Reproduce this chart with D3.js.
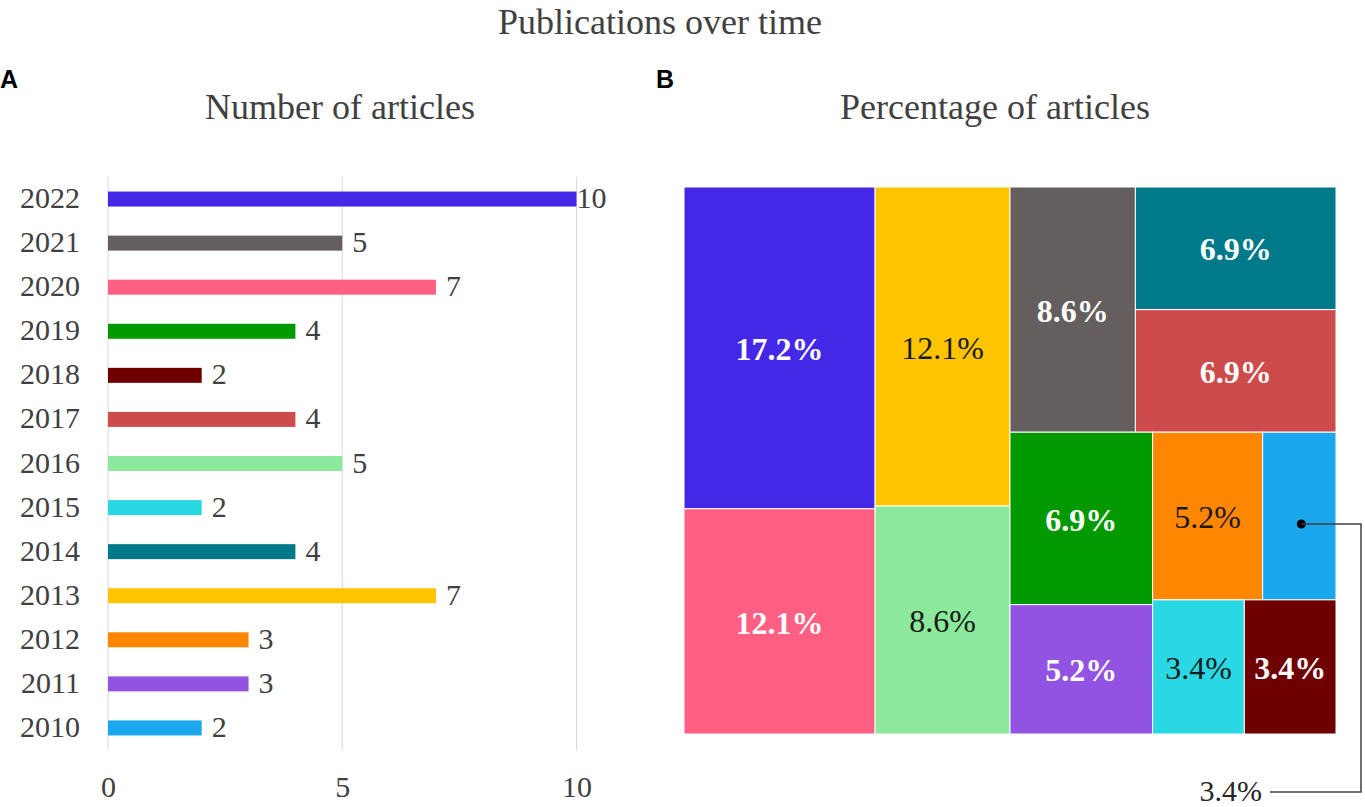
<html>

<head>
    <meta charset="utf-8">
    <title>Publications over time</title>
    <style>
        body { margin: 0; background: #fff; }
        svg text { font-family: "Liberation Serif", "Tinos", "DejaVu Serif", serif !important; }
        svg text.panel { font-family: "Liberation Sans", Arial, sans-serif !important; }
    </style>
</head>

<body>
    <script src="https://cdn.jsdelivr.net/npm/d3@7/dist/d3.min.js" charset="utf-8"></script>
    <script>
        // data
        var years = [2022, 2021, 2020, 2019, 2018, 2017, 2016, 2015, 2014, 2013, 2012, 2011, 2010];
        var counts = [10, 5, 7, 4, 2, 4, 5, 2, 4, 7, 3, 3, 2];
        var colors = ["#4328E7", "#645E5E", "#FF5F82", "#009A00", "#6F0000", "#CE4B4B", "#8AE99A",
            "#2AD8E3", "#007A8A", "#FFC400", "#FF8600", "#9353E2", "#1AA7EC"];
        var xTicks = [0, 5, 10];
        // how the treemap nests its cells (years only)
        var treeGroups = [[2022, 2020], [2013, 2016],
            [[2021, [2014, 2017]], [[2019, 2011], [[2012, 2010], [2015, 2018]]]]];

        var width = 1365, height = 807;
        var textGray = "#404040";

        var countOf = new Map(years.map((y, i) => [y, counts[i]]));
        var colorOf = new Map(years.map((y, i) => [y, colors[i]]));
        var total = d3.sum(counts);

        var svg = d3.select("body").append("svg")
            .attr("width", width)
            .attr("height", height)
            .attr("font-family", "Liberation Serif");

        // titles
        svg.append("text").attr("x", 660).attr("y", 34)
            .attr("text-anchor", "middle").attr("font-size", 36).attr("fill", textGray)
            .text("Publications over time");
        svg.append("text").attr("x", 340).attr("y", 119)
            .attr("text-anchor", "middle").attr("font-size", 36).attr("fill", textGray)
            .text("Number of articles");
        svg.append("text").attr("x", 995).attr("y", 119)
            .attr("text-anchor", "middle").attr("font-size", 36).attr("fill", textGray)
            .text("Percentage of articles");
        svg.selectAll(".panel")
            .data([["A", 0], ["B", 656]])
            .enter().append("text")
            .attr("class", "panel")
            .attr("x", d => d[1]).attr("y", 88)
            .attr("font-weight", "bold").attr("font-size", 25).attr("fill", "#000")
            .text(d => d[0]);

        // ---- A: bar chart ----
        var x = d3.scaleLinear().domain([0, 10]).range([108, 576.5]);
        var y = d3.scaleBand().domain(years).range([177, 750]);
        var barH = y.bandwidth() * 0.34;

        var bars = svg.append("g");
        bars.selectAll(".grid")
            .data(xTicks)
            .enter().append("line")
            .attr("x1", d => x(d)).attr("x2", d => x(d))
            .attr("y1", 177).attr("y2", 750)
            .attr("stroke", "#d9d9d9").attr("stroke-width", 1);

        var xAxis = bars.append("g")
            .attr("transform", "translate(0,797)")
            .call(d3.axisBottom(x).tickValues(xTicks).tickSize(0).tickPadding(0));
        xAxis.attr("font-family", null);
        xAxis.select(".domain").remove();
        xAxis.selectAll("text")
            .attr("dy", 0).attr("font-size", 30).attr("fill", textGray);

        var yAxis = bars.append("g")
            .attr("transform", "translate(80,0)")
            .call(d3.axisLeft(y).tickSize(0).tickPadding(0));
        yAxis.attr("font-family", null);
        yAxis.select(".domain").remove();
        yAxis.selectAll("text")
            .attr("dy", "0.3em").attr("font-size", 30).attr("fill", textGray);

        bars.selectAll(".bar")
            .data(years)
            .enter().append("rect")
            .attr("x", x(0))
            .attr("y", d => y(d) + (y.bandwidth() - barH) / 2)
            .attr("width", d => x(countOf.get(d)) - x(0))
            .attr("height", barH)
            .attr("fill", d => colorOf.get(d));

        bars.selectAll(".val")
            .data(years)
            .enter().append("text")
            .attr("x", d => x(countOf.get(d)) + (countOf.get(d) >= 10 ? 0 : 10))
            .attr("y", d => y(d) + y.bandwidth() / 2)
            .attr("dy", "0.3em")
            .attr("font-size", 30).attr("fill", textGray)
            .text(d => countOf.get(d));

        // ---- B: treemap ----
        function toNode(g) {
            return Array.isArray(g) ? { children: g.map(toNode) } : { year: g };
        }
        // split side by side when wider, stack when taller
        function tile(node, x0, y0, x1, y1) {
            (x1 - x0 > y1 - y0 ? d3.treemapDice : d3.treemapSlice)(node, x0, y0, x1, y1);
        }
        var tmX = 684, tmY = 187, tmW = 652, tmH = 547;
        var root = d3.hierarchy(toNode(treeGroups))
            .sum(d => d.year ? countOf.get(d.year) : 0);
        d3.treemap().size([tmW, tmH]).tile(tile)(root);

        var pct = d3.format(".1%");
        var tm = svg.append("g").attr("transform", "translate(" + tmX + "," + tmY + ")");
        var leaves = root.leaves();

        tm.selectAll(".cell")
            .data(leaves)
            .enter().append("rect")
            .attr("x", d => d.x0).attr("y", d => d.y0)
            .attr("width", d => d.x1 - d.x0).attr("height", d => d.y1 - d.y0)
            .attr("fill", d => colorOf.get(d.data.year))
            .attr("stroke", "#fff").attr("stroke-width", 1);

        var isLight = d => d3.lab(colorOf.get(d.data.year)).l > 65;
        var fits = d => d.x1 - d.x0 > 80;

        tm.selectAll(".lbl")
            .data(leaves.filter(fits))
            .enter().append("text")
            .attr("x", d => (d.x0 + d.x1) / 2)
            .attr("y", d => (d.y0 + d.y1) / 2)
            .attr("dy", "0.38em")
            .attr("text-anchor", "middle")
            .attr("font-size", 32)
            .attr("font-weight", d => isLight(d) ? "normal" : "bold")
            .attr("fill", d => isLight(d) ? "#1a1a1a" : "#fff")
            .text(d => pct(d.value / total));

        // call-out for cells too narrow to hold their label
        var outside = leaves.filter(d => !fits(d));
        var calloutX = tmW + 25, calloutY = 792 - tmY;
        tm.selectAll(".dot")
            .data(outside)
            .enter().append("circle")
            .attr("cx", d => (d.x0 + d.x1) / 2 + 2)
            .attr("cy", d => (d.y0 + d.y1) / 2 + 8)
            .attr("r", 4.5).attr("fill", "#000");
        tm.selectAll(".leader")
            .data(outside)
            .enter().append("path")
            .attr("fill", "none").attr("stroke", textGray).attr("stroke-width", 1.5)
            .attr("d", d => {
                var cx = (d.x0 + d.x1) / 2 + 2, cy = (d.y0 + d.y1) / 2 + 8;
                return "M" + cx + "," + cy + "H" + calloutX + "V" + calloutY + "H" + (calloutX - 91);
            });
        tm.selectAll(".outLbl")
            .data(outside)
            .enter().append("text")
            .attr("x", calloutX - 99)
            .attr("y", calloutY)
            .attr("dy", "0.3em")
            .attr("text-anchor", "end")
            .attr("font-size", 30).attr("fill", "#262626")
            .text(d => pct(d.value / total));
    </script>
</body>

</html>
